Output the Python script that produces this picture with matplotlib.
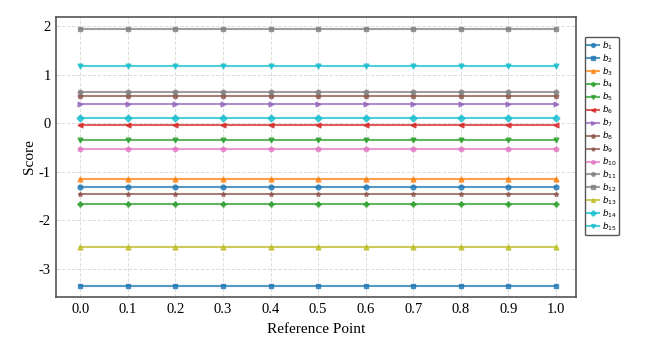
import numpy as np
import matplotlib
matplotlib.use("Agg")
import matplotlib.pyplot as plt

# reference points on the x axis
ref_points = [0.0, 0.1, 0.2, 0.3, 0.4, 0.5, 0.6, 0.7, 0.8, 0.9, 1.0]

# one constant score per baseline
labels = [r"$b_{%d}$" % i for i in range(1, 16)]
scores = [-1.32, -3.35, -1.15, -1.67, -0.34, -0.03, 0.40, 0.55,
          -1.47, -0.54, 0.64, 1.93, -2.55, 0.10, 1.17]

colors = ["tab:blue", "tab:blue", "tab:orange", "tab:green", "tab:green",
          "tab:red", "tab:purple", "tab:brown", "tab:brown", "tab:pink",
          "tab:gray", "tab:gray", "tab:olive", "tab:cyan", "tab:cyan"]
markers = ["o", "s", "^", "P", "v", "<", ">", "p", "*", "h", "H", "s", "^", "D", "v"]

plt.rcParams["font.family"] = ["Liberation Serif", "DejaVu Serif"]
plt.rcParams["mathtext.fontset"] = "dejavusans"
plt.rcParams["axes.unicode_minus"] = False

fig, ax = plt.subplots(figsize=(6.48, 3.49), dpi=100)
fig.subplots_adjust(left=0.087, right=0.889, top=0.952, bottom=0.148)

for lab, s, c, m in zip(labels, scores, colors, markers):
    ax.plot(ref_points, [s] * len(ref_points), color=c, marker=m,
            markersize=3.5, linewidth=1.5, alpha=0.75, label=lab)

ax.set_xticks(ref_points)
ax.set_xticklabels(["%.1f" % v for v in ref_points])
ax.set_xlim(-0.05, 1.042)
ax.set_ylim(-3.59, 2.19)
ax.set_yticks([-3, -2, -1, 0, 1, 2])
ax.tick_params(labelsize=10.5, length=0, pad=4)
ax.set_xlabel("Reference Point", fontsize=11, labelpad=5)
ax.set_ylabel("Score", fontsize=11, labelpad=2)
ax.grid(True, linestyle="--", color="#dddddd", linewidth=0.7)
for sp in ax.spines.values():
    sp.set_color("#555555")
    sp.set_linewidth(1.2)

leg = ax.legend(loc="upper left", bbox_to_anchor=(1.008, 0.945), fontsize=6.3,
                handlelength=1.3, labelspacing=0.05, borderpad=0.3,
                handletextpad=0.35, borderaxespad=0.5, markerscale=0.8,
                framealpha=1, fancybox=True)
leg.get_frame().set_edgecolor("#555555")
leg.get_frame().set_linewidth(1.0)

fig.savefig("out.png", dpi=100)
